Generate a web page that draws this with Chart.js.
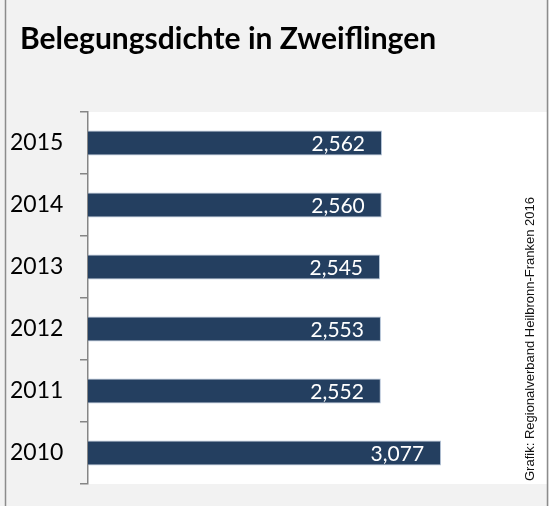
<!DOCTYPE html>
<html>
<head>
<meta charset="utf-8">
<script src="https://cdn.jsdelivr.net/npm/chart.js@4.4.0/dist/chart.umd.min.js"></script>
<style>
  html, body { margin: 0; padding: 0; background: #f2f2f2; }
  #wrap { width: 549px; height: 506px; position: relative; }
</style>
</head>
<body>
<div id="wrap"><canvas id="chart" width="549" height="506"></canvas></div>
<script>
// Daten
const years = ['2015', '2014', '2013', '2012', '2011', '2010'];
const density = [2.562, 2.560, 2.545, 2.553, 2.552, 3.077];
const chartTitle = 'Belegungsdichte in Zweiflingen';
const sourceNote = 'Grafik: Regionalverband Heilbronn-Franken 2016';

const barColor = '#243f60';

// Hintergrund, Rahmen, Titel und Quelle
const frame = {
    id: 'frame',
    beforeDraw(chart) {
        const { ctx, chartArea: a, width, height } = chart;
        ctx.save();
        ctx.fillStyle = '#f2f2f2';
        ctx.fillRect(0, 0, width, height);
        ctx.fillStyle = '#ffffff';
        ctx.fillRect(a.left, a.top, a.right - a.left, a.bottom - a.top);
        ctx.strokeStyle = '#8c8c8c';
        ctx.lineWidth = 1.5;
        ctx.beginPath();
        ctx.moveTo(5.5, 0);
        ctx.lineTo(5.5, height);
        ctx.moveTo(547.5, 0);
        ctx.lineTo(547.5, height);
        ctx.stroke();
        ctx.restore();
    },
    afterDraw(chart) {
        const ctx = chart.ctx;
        ctx.save();
        ctx.fillStyle = '#000';
        ctx.font = 'bold 30px Lato';
        ctx.textBaseline = 'alphabetic';
        ctx.textAlign = 'left';
        ctx.fillText(chartTitle, 20, 49);

        ctx.translate(530, 339);
        ctx.rotate(-Math.PI / 2);
        ctx.font = '13px "Liberation Sans"';
        ctx.textAlign = 'center';
        ctx.textBaseline = 'middle';
        ctx.fillStyle = '#111';
        ctx.fillText(sourceNote, 0, 0);
        ctx.restore();
    }
};

// Werte in den Balken
const valueLabels = {
    id: 'valueLabels',
    afterDatasetsDraw(chart) {
        const ctx = chart.ctx;
        const meta = chart.getDatasetMeta(0);
        ctx.save();
        ctx.fillStyle = '#ffffff';
        ctx.font = '21px Lato';
        ctx.textAlign = 'right';
        ctx.textBaseline = 'middle';
        meta.data.forEach((bar, i) => {
            const txt = density[i].toFixed(3).replace('.', ',');
            ctx.fillText(txt, bar.x - 17, bar.y + 1);
        });
        ctx.restore();
    }
};

new Chart(document.getElementById('chart'), {
    type: 'bar',
    data: {
        labels: years,
        datasets: [{
            data: density,
            backgroundColor: barColor,
            borderColor: '#b4c3d6',
            borderWidth: 1,
            barPercentage: 0.8,
            categoryPercentage: 0.5,
        }],
    },
    options: {
        indexAxis: 'y',
        responsive: false,
        animation: false,
        layout: {
            padding: { left: 10, top: 112, right: 2, bottom: 22 },
        },
        plugins: {
            legend: { display: false },
            tooltip: { enabled: false },
            title: { display: false },
        },
        scales: {
            x: {
                display: false,
                min: 0,
                max: 4,
            },
            y: {
                afterFit(scale) { scale.width = 78; },
                border: { display: true, color: '#868686', width: 1.5 },
                grid: {
                    drawOnChartArea: false,
                    drawTicks: true,
                    tickLength: 8,
                    color: '#868686',
                    lineWidth: 1.5,
                },
                ticks: {
                    crossAlign: 'far',
                    color: '#000',
                    font: { family: 'Lato', size: 23 },
                    padding: 6,
                },
            },
        },
    },
    plugins: [frame, valueLabels],
});
</script>
</body>
</html>
